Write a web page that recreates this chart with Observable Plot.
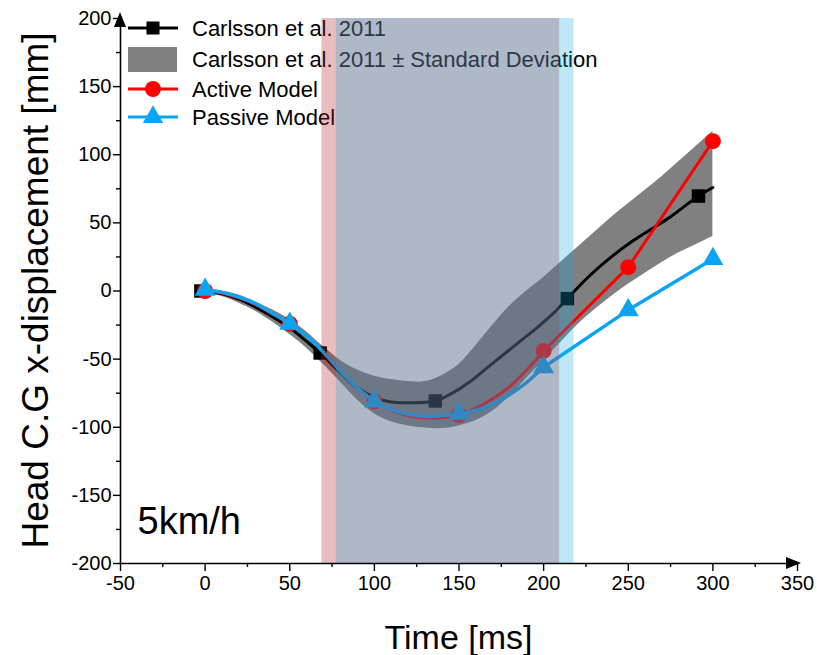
<!DOCTYPE html>
<html><head><meta charset="utf-8">
<script src="https://cdn.jsdelivr.net/npm/d3@7"></script>
<script src="https://cdn.jsdelivr.net/npm/@observablehq/plot@0.6"></script>
<style>body{margin:0;background:#fff}#chart{width:817px;height:655px}</style>
</head><body><div id="chart"></div>
<script>
// ---- data ----
const carlssonT = [-2.5, 10, 20, 30, 40, 50, 60, 68, 80, 90, 100, 110, 120, 136, 146, 156, 166, 176, 186, 196, 206, 214, 227, 240, 253, 265, 275, 291.5, 300];
const carlssonY = [0, -2, -6, -12, -19, -27, -37, -45.5, -60, -71, -78, -81.5, -82, -80.7, -75, -67, -57, -47, -37, -27, -16, -5.6, 11, 25, 37, 46.5, 54.5, 69.7, 76];
const carlssonMarkerT = [-2.5, 68, 136, 214, 291.5];
const carlssonMarkerY = [0, -45.5, -80.7, -5.6, 69.7];

const bandT = [-2.5, 10, 20, 30, 40, 50, 60, 70, 80, 90, 100, 110, 120, 130, 140, 150, 160, 170, 180, 190, 200, 210, 220, 230, 240, 250, 260, 270, 280, 290, 300];
const bandUpper = [2, 0, -3, -8, -14, -21, -30, -41, -51, -58, -62.5, -65, -66.5, -66.5, -62, -54, -40, -25, -11, 0, 10, 21, 32, 43, 54, 64, 74, 84, 95, 106, 117];
const bandLower = [-2, -4, -9, -15, -23, -32, -42, -54, -67, -80, -90, -96, -99, -100.5, -101, -99, -95, -88, -77, -64, -51, -38, -25, -14, -4, 5, 13, 21, 28, 34, 40];

const modelSmoothT = [0, 10, 20, 30, 40, 50, 60, 70, 80, 90, 100, 110, 120, 130, 140, 150, 160, 170, 180, 190, 200];
const activeSmoothY = [0, -1.5, -5, -10, -17, -24, -33, -45, -59, -71, -81, -87.5, -91.5, -93, -93, -91, -86, -79, -70, -58, -44];
const passiveSmoothY = [1, -1, -4.5, -9.5, -16.5, -24, -33, -45, -59, -71, -81, -87, -90.5, -92, -91.5, -90, -87.5, -83, -76, -67, -56];
const modelLateT = [200, 250, 300];
const activeLateY = [-44, 17.5, 110];
const passiveLateY = [-56, -14, 23.5];

const markerT = [0, 50, 100, 150, 200, 250, 300];
const activeMarkerY = [0, -24, -81, -91, -44, 17.5, 110];
const passiveMarkerY = [1, -24, -81, -90, -56, -14, 23.5];

const activeWindow = [69, 209.5];
const passiveWindow = [77.5, 218];

const xTicks = [-50, 0, 50, 100, 150, 200, 250, 300, 350];
const xMinorTicks = [-25, 25, 75, 125, 175, 225, 275, 325];
const yTicks = [-200, -150, -100, -50, 0, 50, 100, 150, 200];
const yMinorTicks = [-175, -125, -75, -25, 25, 75, 125, 175];

const legendLabels = ["Carlsson et al. 2011", "Carlsson et al. 2011 \u00b1 Standard Deviation", "Active Model", "Passive Model"];
const speedLabel = "5km/h";
const xTitle = "Time [ms]";
const yTitle = "Head C.G x-displacement [mm]";

// ---- tables ----
const zip = (xs, ys) => xs.map((x, i) => ({x, y: ys[i]}));
const carlsson = zip(carlssonT, carlssonY);
const carlssonMarkers = zip(carlssonMarkerT, carlssonMarkerY);
const band = bandT.map((t, i) => ({x: t, lo: bandLower[i], hi: bandUpper[i]}));
const activeSmooth = zip(modelSmoothT, activeSmoothY);
const passiveSmooth = zip(modelSmoothT, passiveSmoothY);
const activeLate = zip(modelLateT, activeLateY);
const passiveLate = zip(modelLateT, passiveLateY);
const activeMarkers = zip(markerT, activeMarkerY);
const passiveMarkers = zip(markerT, passiveMarkerY);
const windows = [
  {x1: activeWindow[0], x2: activeWindow[1], c: "rgb(180,35,40)", o: 0.3},
  {x1: passiveWindow[0], x2: passiveWindow[1], c: "rgb(18,170,226)", o: 0.27}
];

const RED = "#ff0000", BLUE = "#0aa4f5", GREY = "#808080";
const FONT = "'Liberation Sans', Arial, sans-serif";

function legendMark(index, scales, values, dims) {
  const g = d3.create("svg:g").attr("font-family", FONT).attr("font-size", 22).attr("fill", "black").attr("text-anchor", "start");
  const x0 = dims.marginLeft + 8, y0 = dims.marginTop;
  const rows = [10, 41, 71, 99];
  const colors = ["black", null, RED, BLUE];
  const syms = [d3.symbolSquare, null, d3.symbolCircle, d3.symbolTriangle];
  const sizes = [170, 0, 200, 180];
  rows.forEach((r, i) => {
    const y = y0 + r;
    if (i === 1) {
      g.append("rect").attr("x", x0).attr("y", y - 12).attr("width", 49).attr("height", 25).attr("fill", GREY);
    } else {
      g.append("line").attr("x1", x0).attr("x2", x0 + 50).attr("y1", y).attr("y2", y)
        .attr("stroke", colors[i]).attr("stroke-width", 3);
      g.append("path").attr("d", d3.symbol(syms[i], sizes[i])()).attr("transform", `translate(${x0 + 25},${y})`)
        .attr("fill", colors[i]);
    }
    g.append("text").attr("x", x0 + 64).attr("y", y).attr("dy", "0.35em").attr("text-anchor", "start").text(legendLabels[i]);
  });
  return g.node();
}

function arrowMark(index, scales, values, dims) {
  const g = d3.create("svg:g").attr("fill", "black");
  const xl = dims.marginLeft, yb = dims.height - dims.marginBottom;
  const yt = dims.marginTop, xr = dims.width - dims.marginRight;
  g.append("path").attr("d", `M${xl},${yt - 6}L${xl - 6},${yt + 9}L${xl + 6},${yt + 9}Z`);
  g.append("path").attr("d", `M${xr + 4},${yb}L${xr - 11},${yb - 6}L${xr - 11},${yb + 6}Z`);
  return g.node();
}

function titleMark(index, scales, values, dims) {
  const g = d3.create("svg:g").attr("font-family", FONT).attr("fill", "black").attr("text-anchor", "middle");
  const cx = (dims.marginLeft + dims.width - dims.marginRight) / 2;
  const cy = (dims.marginTop + dims.height - dims.marginBottom) / 2;
  g.append("text").attr("x", cx).attr("y", dims.height - dims.marginBottom + 74).attr("dy", "0.35em")
    .attr("font-size", 34).text(xTitle);
  g.append("text").attr("transform", `translate(${dims.marginLeft - 85},${cy}) rotate(-90)`).attr("dy", "0.35em")
    .attr("font-size", 37).text(yTitle);
  return g.node();
}

const plot = Plot.plot({
  width: 817, height: 655,
  marginLeft: 120, marginRight: 20, marginTop: 18, marginBottom: 92,
  x: {domain: [-50, 350]},
  y: {domain: [-200, 200]},
  style: {fontFamily: FONT, fontSize: "20px", color: "black", background: "white", overflow: "visible"},
  marks: [
    Plot.areaY(band, {x: "x", y1: "lo", y2: "hi", fill: GREY, curve: "catmull-rom"}),
    Plot.line(carlsson, {x: "x", y: "y", stroke: "black", strokeWidth: 3, curve: "catmull-rom"}),
    Plot.dot(carlssonMarkers, {x: "x", y: "y", symbol: "square", r: 7.6, fill: "black"}),
    Plot.line(activeSmooth, {x: "x", y: "y", stroke: RED, strokeWidth: 3, curve: "catmull-rom"}),
    Plot.line(activeLate, {x: "x", y: "y", stroke: RED, strokeWidth: 3}),
    Plot.dot(activeMarkers, {x: "x", y: "y", symbol: "circle", r: 8, fill: RED}),
    Plot.line(passiveSmooth, {x: "x", y: "y", stroke: BLUE, strokeWidth: 3.5, curve: "catmull-rom"}),
    Plot.line(passiveLate, {x: "x", y: "y", stroke: BLUE, strokeWidth: 3.5}),
    Plot.dot(passiveMarkers, {x: "x", y: "y", symbol: "triangle", r: 7.8, fill: BLUE}),
    Plot.text([speedLabel], {frameAnchor: "bottom-left", textAnchor: "start", lineAnchor: "middle", dx: 17, dy: -42, fontSize: 38}),
    legendMark,
    Plot.rect(windows, {x1: "x1", x2: "x2", fill: d => d.c, fillOpacity: d => d.o}),
    Plot.ruleX([-50], {stroke: "black", strokeWidth: 1.6}),
    Plot.ruleY([-200], {stroke: "black", strokeWidth: 1.6}),
    Plot.axisX({ticks: xTicks, tickSize: 8, tickPadding: 4, tickFormat: d => String(d), label: null, strokeWidth: 1.4, fontSize: 20}),
    Plot.axisX({ticks: xMinorTicks, tickSize: 4, text: null, label: null, strokeWidth: 1.4}),
    Plot.axisY({ticks: yTicks, tickSize: 7, tickPadding: 2, tickFormat: d => String(d), label: null, strokeWidth: 1.4, fontSize: 20}),
    Plot.axisY({ticks: yMinorTicks, tickSize: 4, text: null, label: null, strokeWidth: 1.4}),
    arrowMark,
    titleMark
  ]
});
document.getElementById("chart").appendChild(plot);
</script>
</body></html>
